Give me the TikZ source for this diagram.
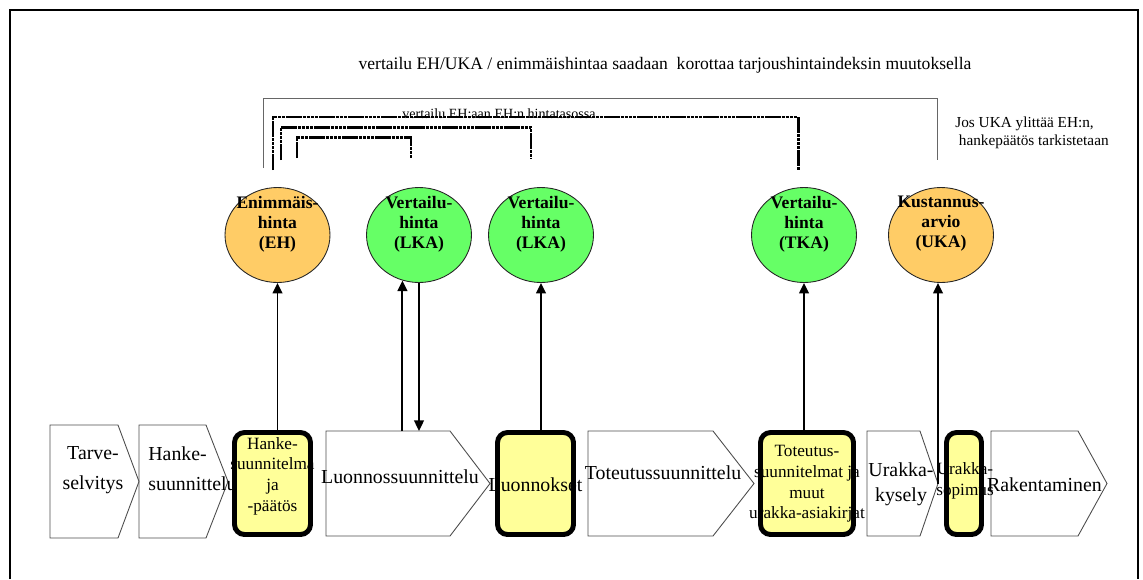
\documentclass[tikz,border=0pt]{standalone}
\usepackage{fontspec}
\setmainfont{Liberation Serif}
\usetikzlibrary{arrows.meta,shapes.geometric,positioning}
\definecolor{PriceOrange}{RGB}{255,204,102}
\definecolor{PriceGreen}{RGB}{102,255,102}
\definecolor{DocYellow}{RGB}{255,255,153}

\begin{document}
\begin{tikzpicture}[x=0.02cm,y=-0.02cm,
    price/.style={ellipse,draw=black!85,line width=0.5pt,minimum width=2.1cm,
                  minimum height=1.9cm,inner sep=0pt},
    pricetxt/.style={font=\fontsize{10}{11.4}\selectfont\bfseries,align=center,inner sep=0pt},
    phase/.style={draw=black!70,line width=0.5pt},
    phasetxt/.style={font=\fontsize{11.3}{17}\selectfont,align=center,inner sep=0pt},
    doc/.style={draw=black,line width=2.8pt,fill=DocYellow,rounded corners=0.2cm,
                minimum height=2.04cm,inner sep=0pt},
    doctxt/.style={font=\fontsize{9.8}{11.8}\selectfont,align=center,inner sep=0pt},
    cmp/.style={draw=black!60,line width=0.5pt},
    cmpdot/.style={line width=1.7pt,dash pattern=on 2pt off 0.35pt},
    arr/.style={-{Triangle[length=6pt,width=5.5pt]},line width=1.1pt}
  ]
  \useasboundingbox (0,0) rectangle (1143,579);
  \draw[line width=1.1pt] (10,579) -- (10,10) -- (1138,10) -- (1138,579);

  % comparisons above the prices
  \node[font=\fontsize{10}{12}\selectfont,inner sep=0pt] (ukanote) at (665,65)
    {vertailu EH/UKA / enimmäishintaa saadaan\ \ korottaa tarjoushintaindeksin muutoksella};
  \draw[cmp] (263,168) |- (937,98) -- (937,160);
  \node[font=\fontsize{8.7}{10.6}\selectfont,align=left,anchor=west,inner sep=0pt] (josnote)
    at (955,133) {Jos UKA ylittää EH:n,\\\hspace*{2pt}hankepäätös tarkistetaan};
  \draw[cmpdot] (273,170) |- (798,117) -- (798,170);
  \draw[cmpdot] (281,160) |- (531,127) -- (531,158);
  \draw[cmpdot] (297,158) |- (411,137) -- (411,158);
  \node[font=\fontsize{8}{9}\selectfont,inner sep=0pt] (ehnote) at (499,114)
    {vertailu EH:aan EH:n hintatasossa};

  % prices
  \node[price,fill=PriceOrange] (eh) at (277.5,235) {};
  \node[price,fill=PriceGreen] (lka1) at (419,235) {};
  \node[price,fill=PriceGreen] (lka2) at (541,235) {};
  \node[price,fill=PriceGreen] (tka) at (804,235) {};
  \node[price,fill=PriceOrange] (uka) at (941,235) {};
  \node[pricetxt] (eh-t) at (277.5,224) {Enimmäis-\\hinta\\(EH)};
  \node[pricetxt] (lka1-t) at (419,224) {Vertailu-\\hinta\\(LKA)};
  \node[pricetxt] (lka2-t) at (541,224) {Vertailu-\\hinta\\(LKA)};
  \node[pricetxt] (tka-t) at (804,224) {Vertailu-\\hinta\\(TKA)};
  \node[pricetxt] (uka-t) at (941,224) {Kustannus-\\arvio\\(UKA)};

  % phases
  \draw[phase] (50,425) -- (118,425) -- (139,481.5) -- (118,538) -- (50,538) -- cycle;
  \draw[phase] (139,425) -- (206,425) -- (228,481.5) -- (206,538) -- (139,538) -- cycle;
  \draw[phase] (326,431) -- (450,431) -- (490,483.5) -- (450,536) -- (326,536) -- cycle;
  \draw[phase] (588,431) -- (713,431) -- (754,483.5) -- (713,536) -- (588,536) -- cycle;
  \draw[phase] (867,431) -- (920,431) -- (938,483.5) -- (920,536) -- (867,536) -- cycle;
  \draw[phase] (991,431) -- (1078,431) -- (1107,483.5) -- (1078,536) -- (991,536) -- cycle;
  \coordinate (luo-top) at (400,431);
  \coordinate (uky-tip) at (938,483.5);
  \node[phasetxt] (tar) at (93,470) {Tarve-\\selvitys};
  \node[phasetxt,align=left,anchor=west] (hsu) at (148,469) {Hanke-\\suunnittelu};
  \node[phasetxt] (luo) at (400,477) {Luonnossuunnittelu};
  \node[phasetxt] (tot) at (663,473) {Toteutussuunnittelu};
  \node[phasetxt,font=\fontsize{11.3}{14}\selectfont] (uky) at (901,484.5) {Urakka-\\kysely};
  \node[phasetxt] (rak) at (1044.5,485) {Rakentaminen};

  % documents
  \node[doc,minimum width=1.52cm] (hsp) at (272.5,483.5) {};
  \node[doc,minimum width=1.52cm] (lko) at (535.5,483.5) {};
  \node[doc,minimum width=1.86cm] (tdo) at (807,483.5) {};
  \node[doc,minimum width=0.7cm] (usp) at (964,483.5) {};
  \node[doctxt] (hsp-t) at (272.5,476) {Hanke-\\suunnitelma\\ja\\-päätös};
  \node[phasetxt] (lko-t) at (535.5,485) {Luonnokset};
  \node[doctxt] (tdo-t) at (807,484) {Toteutus-\\suunnitelmat ja\\muut\\urakka-asiakirjat};
  \node[doctxt] (usp-t) at (965,481) {Urakka-\\sopimus};

  \draw[arr] (hsp.north -| eh.south) -- (eh.south);
  \draw[arr] (lka1.250 |- luo-top) -- (lka1.250);
  \draw[arr] (lka1.south) -- (lka1.south |- luo-top);
  \draw[arr] (lko.north -| lka2.south) -- (lka2.south);
  \draw[arr] (tdo.north -| tka.south) -- (tka.south);
  \draw[arr] (uky-tip) -- (uky-tip |- uka.south);
\end{tikzpicture}
\end{document}
